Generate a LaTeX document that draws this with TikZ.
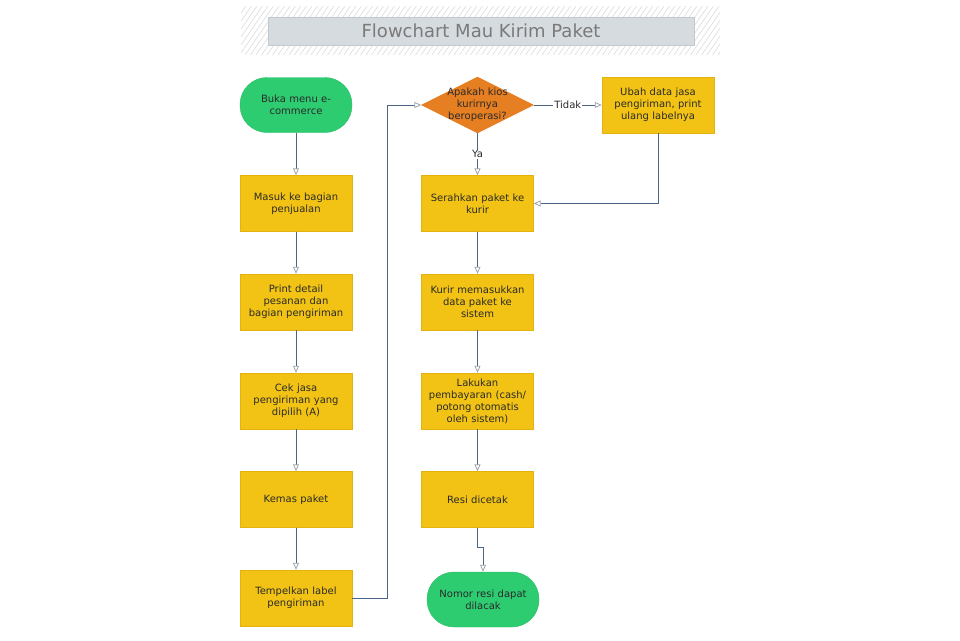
\documentclass[tikz,border=0pt]{standalone}
\usepackage{fontspec}
\setmainfont{DejaVu Sans}
\usetikzlibrary{arrows.meta,shapes.geometric}
\definecolor{boxy}{HTML}{F2C314}
\definecolor{boxyd}{HTML}{E3B20E}
\definecolor{greenn}{HTML}{2ECC71}
\definecolor{greend}{HTML}{29BA66}
\definecolor{orng}{HTML}{E67E22}
\definecolor{lin}{HTML}{4B6584}
\definecolor{tipc}{HTML}{A0A4AA}
\definecolor{tgray}{HTML}{7A7A7A}
\definecolor{titlebg}{HTML}{D6DBE0}
\definecolor{titlebd}{HTML}{C3C9CF}
\definecolor{hatch}{HTML}{D6D6D6}
\definecolor{txt}{HTML}{2A2A2A}
\newcommand{\boxfont}{\fontsize{10}{12}\selectfont}
\begin{document}
\begin{tikzpicture}[x=1pt,y=-1pt,
  proc/.style={draw=boxyd, fill=boxy, minimum width=112pt, minimum height=56pt, inner sep=0pt, text width=108pt, align=center, font=\boxfont, text=txt},
  term/.style={draw=greend, fill=greenn, rounded corners=27pt, minimum width=112pt, minimum height=55pt, inner sep=0pt, text width=100pt, align=center, font=\boxfont, text=txt},
  dec/.style={diamond, draw=orng, fill=orng, minimum width=112pt, minimum height=56pt, inner sep=0pt},
  conn/.style={draw=lin, line width=0.8pt, -{Triangle[open, length=7pt, width=6pt, color=tipc]}},
  lbl/.style={fill=white, inner sep=1pt, font=\boxfont, text=txt}]
\useasboundingbox (0,0) rectangle (960,640);
% title band
\begin{scope}
\clip (241,6) rectangle (720,55);
\foreach \i in {-40,-34.5,...,490} \draw[hatch, line width=0.5pt] (241+\i,55) -- ++(34,-49);
\end{scope}
\node[draw=titlebd, fill=titlebg, minimum width=426pt, minimum height=28pt, inner sep=0pt, text=tgray, font=\fontsize{18}{20}\selectfont] (title) at (481,31) {Flowchart Mau Kirim Paket};
% left column
\node[term] (start) at (296,105) {Buka menu e-\\commerce};
\node[proc] (masuk) at (296,203.5) {Masuk ke bagian\\penjualan};
\node[proc] (print) at (296,302) {Print detail\\pesanan dan\\bagian pengiriman};
\node[proc] (cek) at (296,401) {Cek jasa\\pengiriman yang\\dipilih (A)};
\node[proc] (kemas) at (296,499.5) {Kemas paket};
\node[proc] (tempel) at (296,598) {Tempelkan label\\pengiriman};
% right column
\node[dec] (dia) at (477.5,105) {};
\node[font=\boxfont, text=txt, align=center, inner sep=0pt] (diat) at (dia.center) {Apakah kios\\kurirnya\\beroperasi?};
\node[proc] (ubah) at (658,105) {Ubah data jasa\\pengiriman, print\\ulang labelnya};
\node[proc] (serah) at (477.5,203.5) {Serahkan paket ke\\kurir};
\node[proc] (kurir) at (477.5,302) {Kurir memasukkan\\data paket ke\\sistem};
\node[proc] (bayar) at (477.5,401) {Lakukan\\pembayaran (cash/\\potong otomatis\\oleh sistem)};
\node[proc] (resi) at (477.5,499.5) {Resi dicetak};
\node[term] (nomor) at (483,599.5) {Nomor resi dapat\\dilacak};
% connectors
\draw[conn] (start) -- (masuk);
\draw[conn] (masuk) -- (print);
\draw[conn] (print) -- (cek);
\draw[conn] (cek) -- (kemas);
\draw[conn] (kemas) -- (tempel);
\draw[conn] (tempel.east) -- ++(35,0) |- (dia.west);
\draw[conn] (dia.east) -- node[lbl] (tidak) {Tidak} (ubah.west);
\draw[conn] (dia.south) -- node[lbl] (ya) {Ya} (serah.north);
\draw[conn] (ubah.south) |- (serah.east);
\draw[conn] (serah) -- (kurir);
\draw[conn] (kurir) -- (bayar);
\draw[conn] (bayar) -- (resi);
\draw[conn] (resi.south) -- ++(0,20) -| (nomor.north);
\end{tikzpicture}
\end{document}
